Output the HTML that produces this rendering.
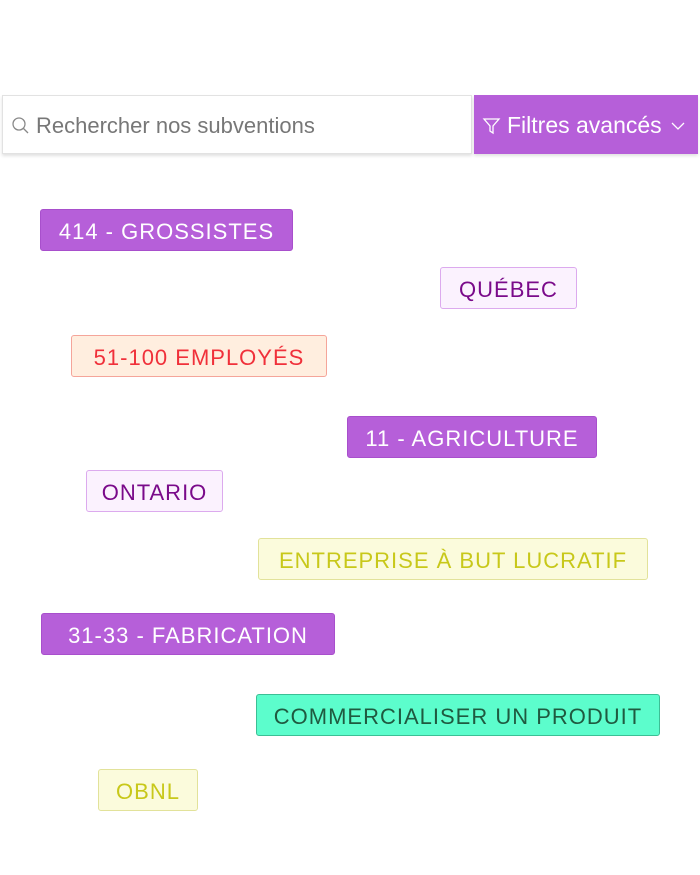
<!DOCTYPE html>
<html><head><meta charset="utf-8"><style>
body{margin:0;width:700px;height:875px;background:#fff;position:relative;font-family:"Liberation Sans",sans-serif;overflow:hidden}
.t{position:absolute;box-sizing:border-box;height:42px;border:1px solid;border-radius:3px;display:flex;align-items:center;justify-content:center;font-size:22px;letter-spacing:1px;white-space:nowrap;padding-top:3px}
.p{background:#b65fd9;border-color:#a84fcc;color:#fff}
.lp{background:#fbf2fe;border-color:#dcaaee;color:#7a0a8a}
.o{background:#ffeedf;border-color:#f5a59a;color:#f0303a}
.y{background:#fbfbdc;border-color:#e2e29a;color:#c8c81a}
.g{background:#5cfdcc;border-color:#3cbf95;color:#1f5a40}
.search{position:absolute;left:2px;top:95px;width:470px;height:59px;box-sizing:border-box;border:1px solid #e2e2e2;box-shadow:0 2px 3px rgba(0,0,0,.12);display:flex;align-items:center;font-size:22px;color:#777;padding-top:2px}
.btn{position:absolute;left:474px;top:95px;width:224px;height:59px;background:#b65fd9;color:#fff;display:flex;align-items:center;font-size:23px;box-shadow:0 2px 3px rgba(0,0,0,.12);padding-top:2px;box-sizing:border-box}
</style></head><body>
<div class="search"><svg width="20" height="20" style="margin:0 5px 0 8px"><circle cx="8" cy="8" r="6" fill="none" stroke="#888" stroke-width="1.3"/><line x1="12.5" y1="12.5" x2="17" y2="17" stroke="#888" stroke-width="1.3"/></svg>Rechercher nos subventions</div>
<div class="btn"><svg width="20" height="20" style="margin:0 5px 0 8px"><path d="M2 3H17L11 10V17L8 15V10Z" fill="none" stroke="#fff" stroke-width="1.3"/></svg>Filtres avancés<svg width="16" height="12" style="margin-left:8px"><path d="M2 3L8 9L14 3" fill="none" stroke="#fff" stroke-width="1.3"/></svg></div>
<div class="t p" style="left:40px;top:209px;width:253px">414 - GROSSISTES</div>
<div class="t lp" style="left:440px;top:267px;width:137px">QUÉBEC</div>
<div class="t o" style="left:71px;top:335px;width:256px">51-100 EMPLOYÉS</div>
<div class="t p" style="left:347px;top:416px;width:250px">11 - AGRICULTURE</div>
<div class="t lp" style="left:86px;top:470px;width:137px">ONTARIO</div>
<div class="t y" style="left:258px;top:538px;width:390px">ENTREPRISE À BUT LUCRATIF</div>
<div class="t p" style="left:41px;top:613px;width:294px">31-33 - FABRICATION</div>
<div class="t g" style="left:256px;top:694px;width:404px">COMMERCIALISER UN PRODUIT</div>
<div class="t y" style="left:98px;top:769px;width:100px">OBNL</div>
</body></html>
